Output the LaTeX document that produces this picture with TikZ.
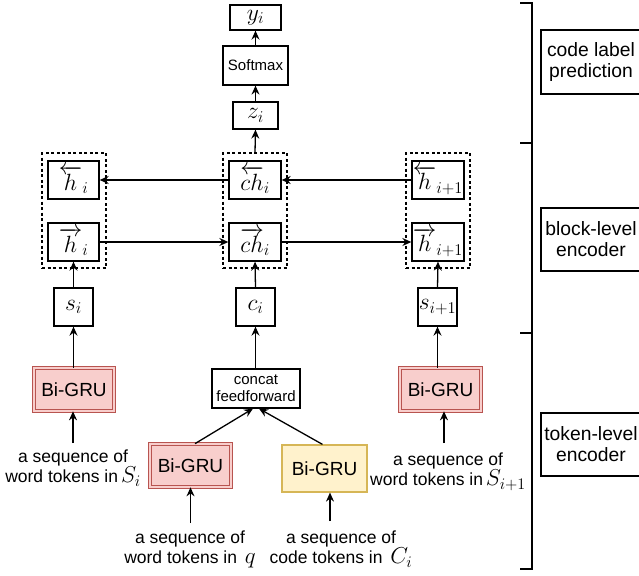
\RequirePackage{fix-cm}
\documentclass[tikz,border=0pt]{standalone}
\usepackage{fontspec}
\setsansfont{Liberation Sans}
\usetikzlibrary{arrows.meta,calc}
\definecolor{redfill}{HTML}{F8CECC}
\definecolor{redline}{HTML}{B85450}
\definecolor{yelfill}{HTML}{FFF2CC}
\definecolor{yelline}{HTML}{D6B656}
\newcommand{\tokmath}[1]{{\fontsize{23}{20}\selectfont\mathversion{normal}$#1$}}
\begin{document}
\begin{tikzpicture}[x=1pt,y=-1pt,
  mbox/.style={draw, line width=1.3pt, inner sep=0pt, font=\fontsize{23.5}{24}\selectfont\mathversion{normal}},
  sbox/.style={draw, line width=1.2pt, inner sep=0pt, align=center, font=\sffamily\fontsize{15}{18}\selectfont},
  dbox/.style={draw, dash pattern=on 3pt off 2.5pt, line width=1.3pt, inner sep=0pt},
  gru/.style={draw=redline, fill=redfill, double=redfill, double distance=2pt, line width=1.1pt, inner sep=0pt, font=\sffamily\fontsize{19}{20}\selectfont},
  ygru/.style={draw=yelline, fill=yelfill, line width=1.2pt, inner sep=0pt, font=\sffamily\fontsize{19}{20}\selectfont},
  txt/.style={align=center, inner sep=0pt, font=\sffamily\fontsize{17.5}{20}\selectfont},
  lbl/.style={draw, line width=1.2pt, inner sep=0pt, align=center, font=\sffamily\fontsize{19.3}{21}\selectfont},
  arr/.style={line width=1.3pt, -{Stealth[length=9pt,width=8pt,inset=3pt]}},
  ln/.style={line width=1.3pt}]
\useasboundingbox (0,0) rectangle (639,575);

% top stack
\node[mbox, minimum width=51, minimum height=25] (y) at (255.5,17.5) {$y_i$};
\node[sbox, minimum width=65, minimum height=39] (soft) at (255.5,65.5) {Softmax};
\node[mbox, minimum width=45, minimum height=27] (z) at (255.5,115.5) {$z_i$};

% dashed groups
\node[dbox, minimum width=64, minimum height=115] (d1) at (74,210.5) {};
\node[dbox, minimum width=64, minimum height=115] (d2) at (255,210.5) {};
\node[dbox, minimum width=64, minimum height=115] (d3) at (438,210.5) {};

% hidden states
\node[mbox, minimum width=51, minimum height=38] (hb1) at (73.5,180) {$\overleftarrow{h}_i$};
\node[mbox, minimum width=51, minimum height=38] (hf1) at (73.5,242) {$\overrightarrow{h}_i$};
\node[mbox, minimum width=52, minimum height=38] (chb) at (255,180) {$\overleftarrow{ch}_i$};
\node[mbox, minimum width=52, minimum height=38] (chf) at (255,242) {$\overrightarrow{ch}_i$};
\node[mbox, minimum width=52, minimum height=38] (hb3) at (438,180) {$\overleftarrow{h}_{i+1}$};
\node[mbox, minimum width=52, minimum height=38] (hf3) at (438,242) {$\overrightarrow{h}_{i+1}$};

% block inputs
\node[mbox, minimum width=39, minimum height=38] (s1) at (73.5,307) {$s_i$};
\node[mbox, minimum width=39, minimum height=38] (c) at (255.5,307) {$c_i$};
\node[mbox, minimum width=39, minimum height=38] (s3) at (437.5,307) {$s_{i+1}$};

% token-level encoders
\node[gru, minimum width=79.6, minimum height=42.6] (g1) at (74,389.5) {Bi-GRU};
\node[sbox, minimum width=88, minimum height=39] (cf) at (256,388.5) {concat\\[-1pt]feedforward};
\node[gru, minimum width=80.6, minimum height=42.6] (g2) at (190.5,465.5) {Bi-GRU};
\node[ygru, minimum width=85, minimum height=47] (g3) at (324.5,468.5) {Bi-GRU};
\node[gru, minimum width=80.6, minimum height=42.6] (g4) at (440.5,389.5) {Bi-GRU};

% input texts
\node[txt, anchor=north] (t1) at (73,450) {a sequence of\\word tokens in\,\tokmath{S_i}};
\node[txt, anchor=north] (t2) at (190,531) {a sequence of\\word tokens in \,\tokmath{q}};
\node[txt, anchor=north] (t3) at (341,531) {a sequence of\\code tokens in \,\tokmath{C_i}};
\node[txt, anchor=north] (t4) at (448,453) {a sequence of\\word tokens in\,\tokmath{S_{i+1}}};

% right-hand labels
\node[lbl, minimum width=100, minimum height=64] (L1) at (591,62) {code label\\prediction};
\node[lbl, minimum width=100, minimum height=63] (L2) at (591,239.5) {block-level\\encoder};
\node[lbl, minimum width=100, minimum height=63] (L3) at (591,444.5) {token-level\\encoder};

% bracket
\draw[line width=1.6pt] (520,3) -- (532,3) -- (532,569) -- (520,569);
\draw[line width=1.6pt] (520,143) -- (532,143);
\draw[line width=1.6pt] (520,333) -- (532,333);

% connectors
\coordinate (a1) at ([xshift=-1pt]g1.south);
\draw[arr] ([yshift=7pt]t1.north -| a1) -- (a1);
\draw[arr] ([yshift=8pt]t2.north -| g2.south) -- (g2.south);
\coordinate (a3) at ([xshift=5.5pt]g3.south);
\draw[arr] ([yshift=10pt]t3.north -| a3) -- (a3);
\coordinate (a4) at ([xshift=3.5pt]g4.south);
\draw[arr] ([yshift=10pt]t4.north -| a4) -- (a4);

\draw[arr] ([xshift=4.5pt]g2.north) -- ([xshift=-3pt]cf.south);
\draw[arr] ([xshift=-2pt]g3.north) -- ([xshift=3pt]cf.south);

\draw[arr] (g1.north -| s1.south) -- (s1.south);
\draw[arr] (cf.north -| c.south) -- (c.south);
\draw[arr] (g4.north -| s3.south) -- (s3.south);

\draw[arr] (s1.north) -- (hf1.south);
\draw[arr] (c.north) -- (chf.south);
\draw[arr] (s3.north) -- (hf3.south);

\draw[arr] (hf1.east) -- (chf.west);
\draw[arr] (chf.east) -- (hf3.west);
\draw[arr] (hb3.west) -- (chb.east);
\draw[arr] (chb.west) -- (hb1.east);

\draw[arr] (d2.north) -- (z.south);
\draw[arr] (z.north) -- (soft.south);
\draw[arr] (soft.north) -- (y.south);
\end{tikzpicture}
\end{document}
